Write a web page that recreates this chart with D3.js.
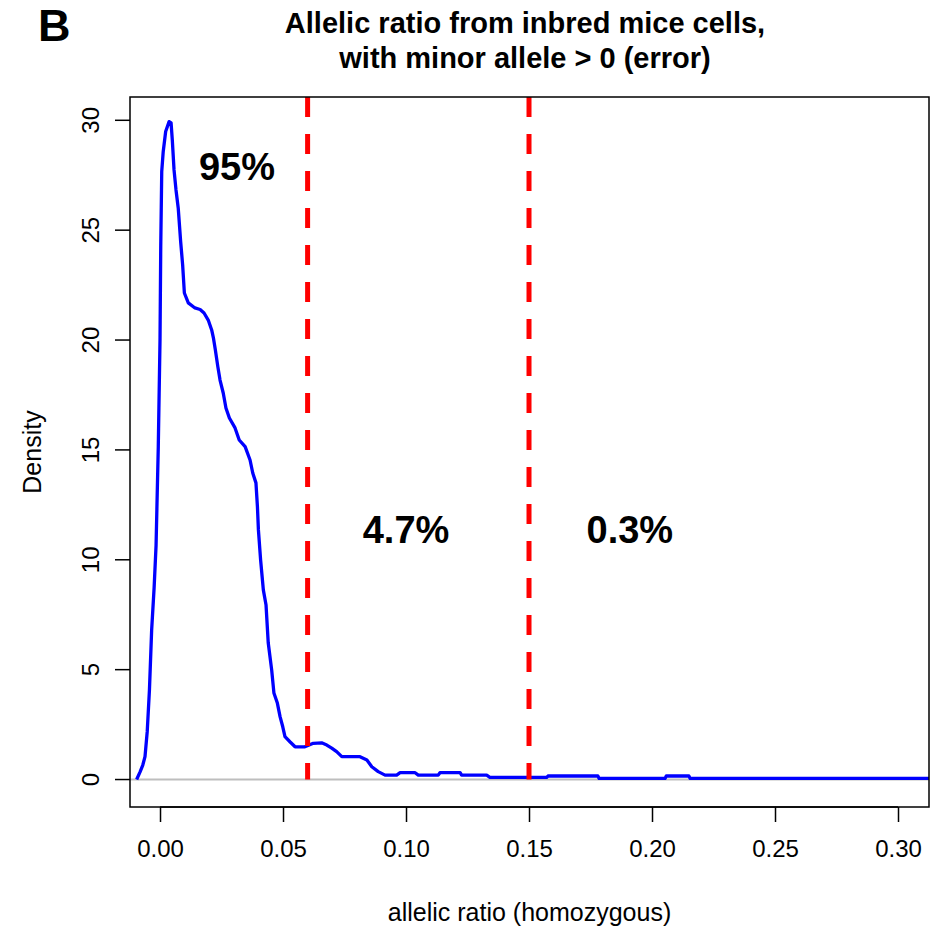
<!DOCTYPE html>
<html lang='en'>
  <head>
    <style type='text/css'>
      body {margin: 0; background-color: #fff;}
      #visualization {width: 938px; height: 932px;}
      text {font-family: "Liberation Sans", Arial, sans-serif;}
    </style>
  </head>
  <body>

    <div id='visualization'>
      <svg width='938' height='932'></svg>
    </div>

    <script src='https://d3js.org/d3.v7.min.js'></script>
    <script type='text/javascript'>
        // allelic ratio (x) and density (y)
        var ratio = [
          -0.0095, -0.0081, -0.0070, -0.0061, -0.0052, -0.0043, -0.0034, -0.0024,
          -0.0016, -0.0007, 0.0000, 0.0003, 0.0007, 0.0013, 0.0023, 0.0037,
          0.0045, 0.0050, 0.0057, 0.0065, 0.0074, 0.0084, 0.0092, 0.0099,
          0.0115, 0.0142, 0.0163, 0.0179, 0.0196, 0.0210, 0.0217, 0.0225,
          0.0235, 0.0244, 0.0257, 0.0268, 0.0282, 0.0305, 0.0322, 0.0346,
          0.0366, 0.0377, 0.0390, 0.0396, 0.0400, 0.0409, 0.0420, 0.0431,
          0.0440, 0.0454, 0.0463, 0.0477, 0.0488, 0.0499, 0.0508, 0.0528,
          0.0549, 0.0589, 0.0623, 0.0657, 0.0678, 0.0698, 0.0718, 0.0739,
          0.0813, 0.0841, 0.0861, 0.0887, 0.0915, 0.0962, 0.0976, 0.1037,
          0.1050, 0.1131, 0.1138, 0.1220, 0.1226, 0.1328, 0.1341, 0.1572,
          0.1577, 0.1780, 0.1785, 0.2053, 0.2058, 0.2150, 0.2155, 0.3130
        ];

        var density = [
          0, 0.35, 0.66, 1.04, 2.18, 4.07, 6.80, 8.72,
          10.67, 15.15, 20.0, 24.3, 27.66, 28.57, 29.49, 29.94,
          29.88, 29.1, 27.74, 26.83, 26.01, 24.47, 23.42, 22.14,
          21.69, 21.46, 21.39, 21.23, 20.91, 20.46, 20.10, 19.55,
          18.79, 18.18, 17.59, 16.91, 16.45, 16.00, 15.45, 15.15,
          14.54, 13.95, 13.50, 12.42, 11.36, 9.99, 8.63, 7.94,
          6.21, 4.98, 3.94, 3.48, 2.86, 2.40, 1.95, 1.72,
          1.49, 1.49, 1.65, 1.67, 1.57, 1.43, 1.27, 1.04,
          1.04, 0.89, 0.58, 0.36, 0.20, 0.20, 0.31, 0.31,
          0.20, 0.20, 0.31, 0.31, 0.20, 0.20, 0.10, 0.10,
          0.16, 0.16, 0.05, 0.05, 0.16, 0.16, 0.05, 0.05
        ];

        var xTicks = [0, 0.05, 0.10, 0.15, 0.20, 0.25, 0.30];
        var yTicks = [0, 5, 10, 15, 20, 25, 30];

        // cutoffs and the share of cells in each region
        var cutoffs = [0.06, 0.15];
        var shares = ["95%", "4.7%", "0.3%"];
        var shareX = [0.0313, 0.100, 0.191];
        var shareY = [27.9, 11.4, 11.4];

        var titleLines = ["Allelic ratio from inbred mice cells,", "with minor allele > 0 (error)"];

        var svg = d3.select("#visualization svg");

        // plot box
        var box = {left: 130, right: 929, top: 97, bottom: 807};

        var x = d3.scaleLinear().domain([-0.0122, 0.3126]).range([box.left, box.right]);
        var y = d3.scaleLinear().domain([-1.25, 31.06]).range([box.bottom, box.top]);

        svg.append("defs").append("clipPath").attr("id", "plotclip")
          .append("rect")
            .attr("x", box.left).attr("y", box.top)
            .attr("width", box.right - box.left).attr("height", box.bottom - box.top);

        var plot = svg.append("g").attr("clip-path", "url(#plotclip)");

        // zero line
        plot.append("line")
            .attr("x1", box.left).attr("x2", box.right)
            .attr("y1", y(0)).attr("y2", y(0))
            .style("stroke", "#bebebe")
            .style("stroke-width", 2);

        // density curve
        var line = d3.line()
            .x(function(d, i) { return x(ratio[i]); })
            .y(function(d) { return y(d); });

        plot.append("path")
            .datum(density)
            .attr("d", line)
            .style("fill", "none")
            .style("stroke", "#0000ff")
            .style("stroke-width", 3.3)
            .style("stroke-linejoin", "round");

        // dashed cutoffs
        plot.selectAll(".cut").data(cutoffs)
          .enter().append("line")
            .attr("class", "cut")
            .attr("x1", x).attr("x2", x)
            .attr("y1", box.top).attr("y2", y(0))
            .style("stroke", "#ff0000")
            .style("stroke-width", 5)
            .style("stroke-dasharray", "20,17");

        // box
        svg.append("rect")
            .attr("x", box.left).attr("y", box.top)
            .attr("width", box.right - box.left).attr("height", box.bottom - box.top)
            .style("fill", "none")
            .style("stroke", "#000")
            .style("stroke-width", 1.5);

        // x axis
        var xAxis = svg.append("g")
            .attr("transform", "translate(0," + box.bottom + ")")
            .call(d3.axisBottom(x).tickValues(xTicks).tickFormat(d3.format(".2f"))
                  .tickSize(15).tickPadding(18));
        xAxis.select(".domain").remove();
        xAxis.append("line")
            .attr("x1", x(0)).attr("x2", x(0.30)).attr("y1", 0).attr("y2", 0)
            .style("stroke", "#000");
        xAxis.selectAll("line").style("stroke-width", 1.5);
        xAxis.selectAll("text")
            .style("font-family", "'Liberation Sans', Arial, sans-serif")
            .style("font-size", "24px")
            .style("fill", "#000");

        // y axis
        var yAxis = svg.append("g")
            .attr("transform", "translate(" + box.left + ",0)")
            .call(d3.axisLeft(y).tickValues(yTicks).tickSize(15).tickPadding(18));
        yAxis.select(".domain").remove();
        yAxis.selectAll("line").style("stroke-width", 1.5);
        yAxis.selectAll("text")
            .attr("x", null).attr("dy", null)
            .attr("transform", function(d) { return "translate(-40," + y(d) + ") rotate(-90)"; })
            .attr("y", 0)
            .style("text-anchor", "middle")
            .style("dominant-baseline", "central")
            .style("font-family", "'Liberation Sans', Arial, sans-serif")
            .style("font-size", "24px")
            .style("fill", "#000");
        yAxis.selectAll(".tick").attr("transform", null);
        yAxis.selectAll(".tick line")
            .attr("y1", function(d) { return y(d); })
            .attr("y2", function(d) { return y(d); });

        // axis titles
        svg.append("text")
            .attr("x", (box.left + box.right) / 2)
            .attr("y", 921)
            .style("text-anchor", "middle")
            .style("font-size", "25px")
            .text("allelic ratio (homozygous)");

        svg.append("text")
            .attr("transform", "translate(41," + (box.top + box.bottom) / 2 + ") rotate(-90)")
            .style("text-anchor", "middle")
            .style("font-size", "25px")
            .text("Density");

        // title
        svg.selectAll(".title").data(titleLines)
          .enter().append("text")
            .attr("class", "title")
            .attr("x", 525)
            .attr("y", function(d, i) { return 33 + i * 35; })
            .style("text-anchor", "middle")
            .style("font-size", "29px")
            .style("font-weight", "bold")
            .text(function(d) { return d; });

        // panel letter
        svg.append("text")
            .attr("x", 38).attr("y", 41)
            .style("font-size", "45px")
            .style("font-weight", "bold")
            .text("B");

        // region shares
        svg.selectAll(".share").data(shares)
          .enter().append("text")
            .attr("class", "share")
            .attr("x", function(d, i) { return x(shareX[i]); })
            .attr("y", function(d, i) { return y(shareY[i]); })
            .attr("dy", "0.36em")
            .style("text-anchor", "middle")
            .style("font-size", "38px")
            .style("font-weight", "bold")
            .text(function(d) { return d; });
    </script>
  </body>
</html>
